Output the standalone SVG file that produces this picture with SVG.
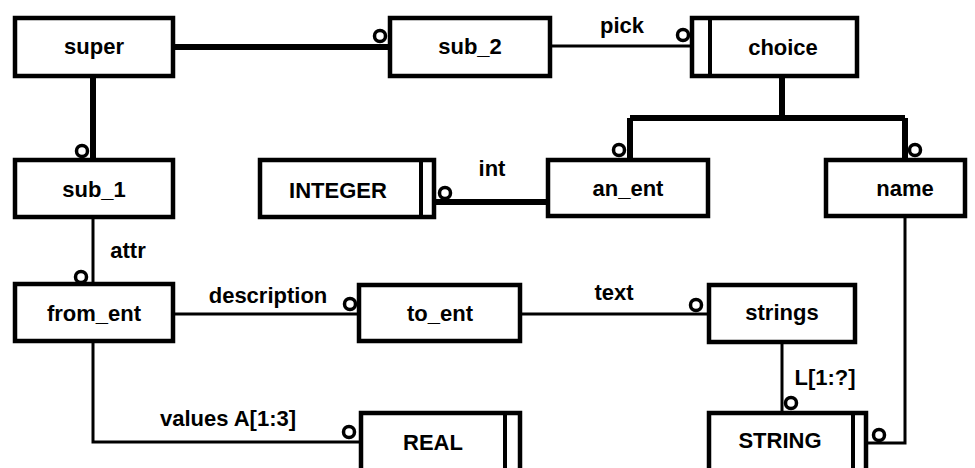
<svg xmlns="http://www.w3.org/2000/svg" width="975" height="468" viewBox="0 0 975 468">
<style>
.box{fill:#fff;stroke:#000;stroke-width:4.5}
.div{stroke:#000;stroke-width:4}
.t{font-family:"Liberation Sans",Arial,sans-serif;font-weight:bold;font-size:22px;fill:#000;text-anchor:middle}
.thick{fill:none;stroke:#000;stroke-width:6}
.thin{fill:none;stroke:#000;stroke-width:3}
.c{fill:#fff;stroke:#000;stroke-width:3.5}
</style>
<rect width="975" height="468" fill="#fff"/>
<g id="connectors">
<path class="thick" d="M173 47H390"/>
<path class="thick" d="M93 76V160"/>
<path class="thin" d="M550 46H692"/>
<path class="thick" d="M782 76V118M630 118H905M630 118V160M905 118V160"/>
<path class="thick" d="M434 202H548"/>
<path class="thin" d="M93 217V284"/>
<path class="thin" d="M173 314H359"/>
<path class="thin" d="M520 314H709"/>
<path class="thin" d="M782 342V413"/>
<path class="thin" d="M905 216V443H866"/>
<path class="thin" d="M93 341V442H361"/>
<circle class="c" cx="380" cy="36" r="5.5"/>
<circle class="c" cx="683" cy="35" r="5.5"/>
<circle class="c" cx="619" cy="150" r="5.5"/>
<circle class="c" cx="915" cy="150" r="5.5"/>
<circle class="c" cx="445" cy="193" r="5.5"/>
<circle class="c" cx="82" cy="151" r="5.5"/>
<circle class="c" cx="81" cy="277" r="5.5"/>
<circle class="c" cx="350" cy="304" r="5.5"/>
<circle class="c" cx="696" cy="305" r="5.5"/>
<circle class="c" cx="791" cy="403" r="5.5"/>
<circle class="c" cx="879" cy="435" r="5.5"/>
<circle class="c" cx="349" cy="432" r="5.5"/>
<text class="t" x="622" y="33">pick</text>
<text class="t" x="492" y="176">int</text>
<text class="t" x="128" y="258">attr</text>
<text class="t" x="268" y="303">description</text>
<text class="t" x="614" y="300">text</text>
<text class="t" x="825" y="385">L[1:?]</text>
<text class="t" x="228" y="426">values A[1:3]</text>
</g>
<g id="super"><rect class="box" x="15" y="18" width="158" height="58"/><text class="t" x="94" y="54">super</text></g>
<g id="sub_2"><rect class="box" x="390" y="18" width="160" height="58"/><text class="t" x="470" y="54">sub_2</text></g>
<g id="choice"><rect class="box" x="692" y="18" width="165" height="58"/><line class="div" x1="710" y1="18" x2="710" y2="76"/><text class="t" x="783" y="55">choice</text></g>
<g id="sub_1"><rect class="box" x="15" y="160" width="158" height="57"/><text class="t" x="94" y="197">sub_1</text></g>
<g id="INTEGER"><rect class="box" x="260" y="160" width="174" height="57"/><line class="div" x1="421" y1="160" x2="421" y2="217"/><text class="t" x="338" y="198">INTEGER</text></g>
<g id="an_ent"><rect class="box" x="548" y="160" width="160" height="56"/><text class="t" x="628" y="196">an_ent</text></g>
<g id="name"><rect class="box" x="826" y="160" width="139" height="56"/><text class="t" x="905" y="196">name</text></g>
<g id="from_ent"><rect class="box" x="15" y="284" width="158" height="57"/><text class="t" x="94" y="321">from_ent</text></g>
<g id="to_ent"><rect class="box" x="359" y="285" width="161" height="56"/><text class="t" x="440" y="321">to_ent</text></g>
<g id="strings"><rect class="box" x="709" y="285" width="146" height="57"/><text class="t" x="782" y="320">strings</text></g>
<g id="REAL"><rect class="box" x="361" y="413" width="159" height="58"/><line class="div" x1="505" y1="413" x2="505" y2="471"/><text class="t" x="433" y="450">REAL</text></g>
<g id="STRING"><rect class="box" x="709" y="413" width="157" height="58"/><line class="div" x1="853" y1="413" x2="853" y2="471"/><text class="t" x="780" y="448">STRING</text></g>
</svg>
